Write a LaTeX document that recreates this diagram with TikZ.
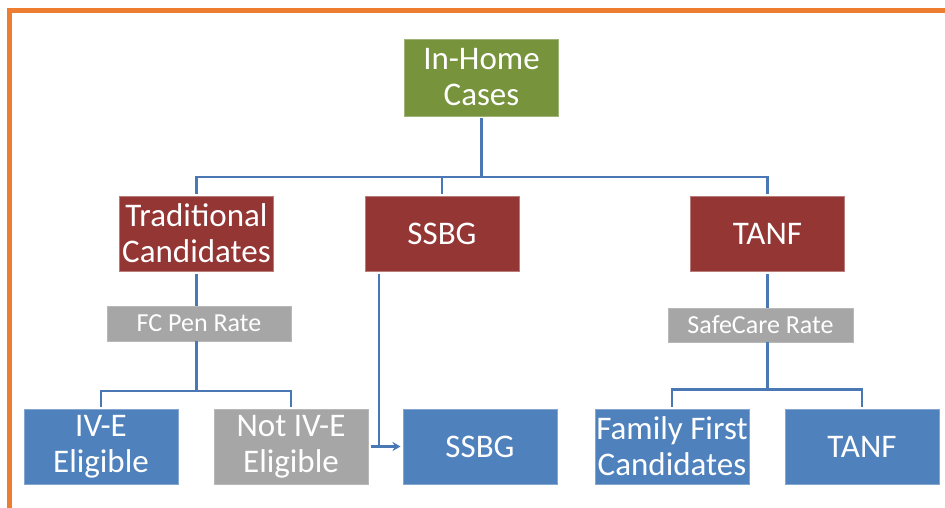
\documentclass[tikz,border=0pt]{standalone}
\usepackage{fontspec}
\setmainfont{Carlito}
\usetikzlibrary{arrows.meta}
\definecolor{frameorange}{HTML}{ED7D31}
\definecolor{rootgreen}{HTML}{77933C}
\definecolor{progred}{HTML}{943634}
\definecolor{fundblue}{HTML}{4F81BD}
\definecolor{rategrey}{HTML}{A6A6A6}
\definecolor{linkblue}{HTML}{4A78B4}
\tikzset{
  box/.style={rectangle, minimum width=154pt, minimum height=75pt, inner sep=0pt,
    outer sep=2.5pt, align=center, text=white, line width=0.8pt,
    font=\fontsize{33}{36}\selectfont},
  rootbox/.style={box, fill=rootgreen, draw=rootgreen!70!white, minimum height=77pt},
  redbox/.style={box, fill=progred, draw=progred!65!white},
  bluebox/.style={box, fill=fundblue, draw=fundblue!70!white},
  ratebox/.style={rectangle, minimum height=35pt, inner sep=0pt, outer sep=0pt,
    fill=rategrey, draw=rategrey!80!white, line width=0.6pt, text=white,
    font=\fontsize{26}{28}\selectfont},
  link/.style={draw=linkblue, line width=2.4pt},
}
\begin{document}
\begin{tikzpicture}[x=1pt, y=-1pt]
  \useasboundingbox (0,0) rectangle (945,508);
  % orange frame, open on the right and at the bottom
  \begin{scope}
    \clip (0,0) rectangle (945,508);
    \draw[frameorange, line width=4.5pt] (9.5,520) -- (9.5,10.5) -- (960,10.5);
  \end{scope}

  % root
  \node[rootbox] (root) at (481.5,77.5) {In-Home\\Cases};

  % programme level
  \node[redbox] (trad)  at (196.5,233.5) {Traditional\\Candidates};
  \node[redbox] (ssbgR) at (442,233.5) {SSBG};
  \node[redbox] (tanfR) at (767.5,233.5) {TANF};

  % rate labels
  \node[ratebox, minimum width=184pt] (fc) at (199,323.5) {FC Pen Rate};
  \node[ratebox, minimum width=185pt, minimum height=34pt] (sc) at (760.5,325) {SafeCare Rate};

  % funding level
  \node[bluebox] (ive)    at (101,446.5) {IV-E\\Eligible};
  \node[box, fill=rategrey, draw=rategrey!80!white] (notive) at (291,446.5) {Not IV-E\\Eligible};
  \node[bluebox] (ssbgB)  at (480,446.5) {SSBG};
  \node[bluebox] (ff)     at (672,446.5) {Family First\\Candidates};
  \node[bluebox] (tanfB)  at (862,446.5) {TANF};

  % junction points
  \coordinate (bus) at (481.5,177);
  \coordinate (jl)  at (196.5,391);
  \coordinate (jr)  at (767.5,389.5);
  \coordinate (sj)  at (379,446.5);

  % root to programmes
  \draw[link] (root.south) -- (bus);
  \draw[link] (bus) -| (trad.north);
  \draw[link] (bus) -| (ssbgR.north);
  \draw[link] (bus) -| (tanfR.north);

  % traditional branch
  \draw[link] (trad.south) -- (trad.south |- fc.north);
  \draw[link] (trad.south |- fc.south) -- (jl);
  \draw[link] (jl) -| (ive.north);
  \draw[link] (jl) -| (notive.north);

  % SSBG branch
  \draw[link] (sj |- ssbgR.south) -- (sj);
  \draw[link, -{Stealth[length=8pt,width=9pt]}] (notive.east) -- (ssbgB.west);

  % TANF branch
  \draw[link] (tanfR.south) -- (tanfR.south |- sc.north);
  \draw[link] (tanfR.south |- sc.south) -- (jr);
  \draw[link] (jr) -| (ff.north);
  \draw[link] (jr) -| (tanfB.north);
\end{tikzpicture}
\end{document}
